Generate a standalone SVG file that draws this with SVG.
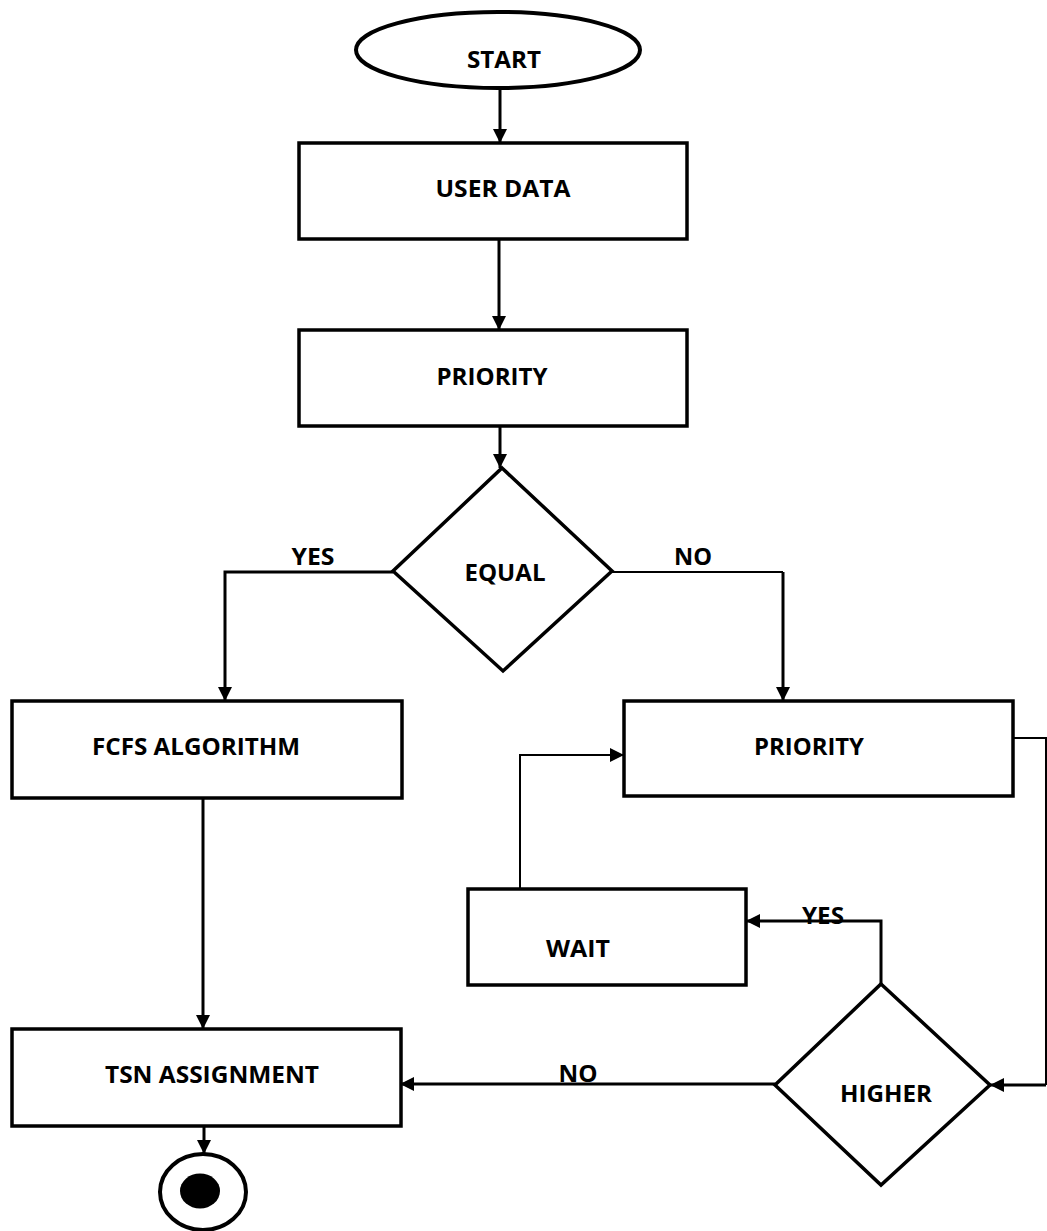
<svg xmlns="http://www.w3.org/2000/svg" width="1047" height="1231" viewBox="0 0 1047 1231">
  <defs>
    <marker id="arr" markerUnits="userSpaceOnUse" markerWidth="15" markerHeight="15" refX="14" refY="7" orient="auto">
      <path d="M0,0 L14,7 L0,14 Z" fill="#000"/>
    </marker>
    <style>
      .box { fill: #fff; stroke: #000; stroke-width: 3.5; }
      .ring { fill: #fff; stroke: #000; stroke-width: 4; }
      .lbl { font-family: "Open Sans", "Liberation Sans", sans-serif; font-weight: bold; font-size: 23.5px; fill: #000; text-anchor: middle; }
      .c { fill: none; stroke: #000; stroke-width: 3; }
      .t { fill: none; stroke: #000; stroke-width: 2; }
    </style>
  </defs>
  <rect width="1047" height="1231" fill="#fff"/>

  <g id="connectors">
    <path class="c" d="M500,90 V143" marker-end="url(#arr)"/>
    <path class="c" d="M499,239 V330" marker-end="url(#arr)"/>
    <path class="c" d="M500,426 V468" marker-end="url(#arr)"/>
    <path class="c" d="M393,572 H225 V701" marker-end="url(#arr)"/>
    <path class="t" d="M612,572 H783"/>
    <path class="c" d="M783,572 V701" marker-end="url(#arr)"/>
    <path class="c" d="M203,798 V1029" marker-end="url(#arr)"/>
    <path class="c" d="M204,1126 V1154" marker-end="url(#arr)"/>
    <path class="t" d="M1013,738 H1046 V1085"/>
    <path class="c" d="M1046,1085 H990" marker-end="url(#arr)"/>
    <path class="c" d="M881,984 V921 H746" marker-end="url(#arr)"/>
    <path class="t" d="M520,889 V755 H624" marker-end="url(#arr)"/>
    <path class="c" d="M775,1084 H400" marker-end="url(#arr)"/>
    <text class="lbl" x="313" y="565" textLength="43" lengthAdjust="spacingAndGlyphs">YES</text>
    <text class="lbl" x="693" y="565" textLength="38" lengthAdjust="spacingAndGlyphs">NO</text>
    <text class="lbl" x="823" y="924" textLength="42" lengthAdjust="spacingAndGlyphs">YES</text>
    <text class="lbl" x="578" y="1082" textLength="39" lengthAdjust="spacingAndGlyphs">NO</text>
  </g>

  <g id="start">
    <ellipse class="ring" cx="498" cy="50" rx="142" ry="38"/>
    <text class="lbl" x="504" y="68" textLength="74" lengthAdjust="spacingAndGlyphs">START</text>
  </g>
  <g id="user-data">
    <rect class="box" x="299" y="143" width="388" height="96"/>
    <text class="lbl" x="503" y="197" textLength="135" lengthAdjust="spacingAndGlyphs">USER DATA</text>
  </g>
  <g id="priority-1">
    <rect class="box" x="299" y="330" width="388" height="96"/>
    <text class="lbl" x="492" y="385" textLength="111" lengthAdjust="spacingAndGlyphs">PRIORITY</text>
  </g>
  <g id="equal">
    <polygon class="box" points="502,468 612,571 503,671 393,571"/>
    <text class="lbl" x="505" y="581" textLength="81" lengthAdjust="spacingAndGlyphs">EQUAL</text>
  </g>
  <g id="fcfs">
    <rect class="box" x="12" y="701" width="390" height="97"/>
    <text class="lbl" x="196" y="755" textLength="208" lengthAdjust="spacingAndGlyphs">FCFS ALGORITHM</text>
  </g>
  <g id="priority-2">
    <rect class="box" x="624" y="701" width="389" height="95"/>
    <text class="lbl" x="809" y="755" textLength="110" lengthAdjust="spacingAndGlyphs">PRIORITY</text>
  </g>
  <g id="wait">
    <rect class="box" x="468" y="889" width="278" height="96"/>
    <text class="lbl" x="578" y="957" textLength="64" lengthAdjust="spacingAndGlyphs">WAIT</text>
  </g>
  <g id="higher">
    <polygon class="box" points="881,984 990,1085 881,1185 775,1085"/>
    <text class="lbl" x="886" y="1102" textLength="92" lengthAdjust="spacingAndGlyphs">HIGHER</text>
  </g>
  <g id="tsn">
    <rect class="box" x="12" y="1029" width="389" height="97"/>
    <text class="lbl" x="212" y="1083" textLength="214" lengthAdjust="spacingAndGlyphs">TSN ASSIGNMENT</text>
  </g>
  <g id="end">
    <ellipse class="ring" cx="203" cy="1192" rx="43" ry="38"/>
    <ellipse cx="200" cy="1191" rx="20" ry="17.5" fill="#000"/>
  </g>
</svg>
